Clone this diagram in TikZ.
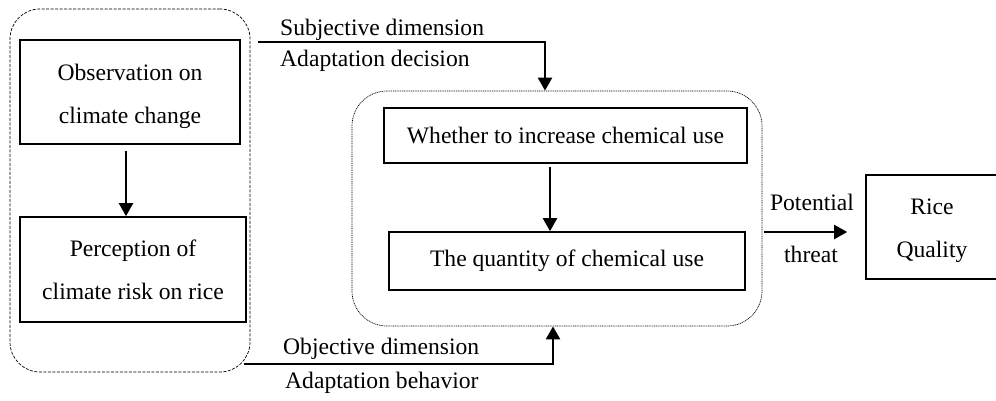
\documentclass[tikz,border=0pt]{standalone}
\usepackage{fontspec}
\setmainfont{Liberation Serif}
\usetikzlibrary{arrows.meta}
\begin{document}
\begin{tikzpicture}[x=1pt,y=-1pt,
  every node/.style={font=\fontsize{23.6}{43}\selectfont, inner sep=0pt},
  box/.style={draw, line width=1.6pt, align=center},
  txt/.style={align=center},
  grp/.style={draw, line width=0.7pt, rounded corners=30pt},
  arr/.style={line width=2.2pt, -{Triangle[length=13pt,width=14pt]}}]
\useasboundingbox (0,0) rectangle (996,401);

% groups
\node[grp, dash pattern=on 3pt off 1.5pt, minimum width=240pt, minimum height=363pt] (left) at (130,190.5) {};
\node[grp, dash pattern=on 1pt off 0.8pt, rounded corners=35pt, minimum width=410pt, minimum height=235pt] (mid) at (557,208.5) {};

% boxes
\node[box, minimum width=220pt, minimum height=104pt] (obs) at (130,92) {};
\node[txt] (obst) at (130,96) {Observation on\\climate change};
\node[box, minimum width=226pt, minimum height=105pt] (per) at (133,269.5) {Perception of\\climate risk on rice};
\node[box, minimum width=363pt, minimum height=55pt] (wh) at (565.5,135.5) {Whether to increase chemical use};
\node[box, minimum width=356pt, minimum height=58pt] (qu) at (567,261) {The quantity of chemical use};
\node[box, minimum width=132pt, minimum height=104pt] (rice) at (932,227) {};
\node[txt] (ricet) at (932,231) {Rice\\Quality};

% labels
\node[anchor=west] (l1) at (280,30) {Subjective dimension};
\node[anchor=west] (l2) at (280,61) {Adaptation decision};
\node[anchor=west] (l3) at (283,349) {Objective dimension};
\node[anchor=west] (l4) at (285,383) {Adaptation behavior};
\node (l5) at (812,202) {Potential};
\node (l6) at (811,254) {threat};

% helper coordinates
\coordinate (s1) at (258,42);
\coordinate (s2) at (244,364);
\coordinate (xa) at (126,0);
\coordinate (xb) at (550,0);
\coordinate (ya) at (0,232);

% connectors
\draw[arr] ([yshift=-6pt]obs.south -| xa) -- (per.north -| xa);
\draw[arr] ([yshift=-3pt]wh.south -| xb) -- (qu.north -| xb);
\draw[arr] (s1) -| ([xshift=-12pt]mid.north);
\draw[arr] (s2) -| ([xshift=-4pt]mid.south);
\draw[arr] ([xshift=2pt]mid.east |- ya) -- ([xshift=-18pt]rice.west |- ya);
\end{tikzpicture}
\end{document}
